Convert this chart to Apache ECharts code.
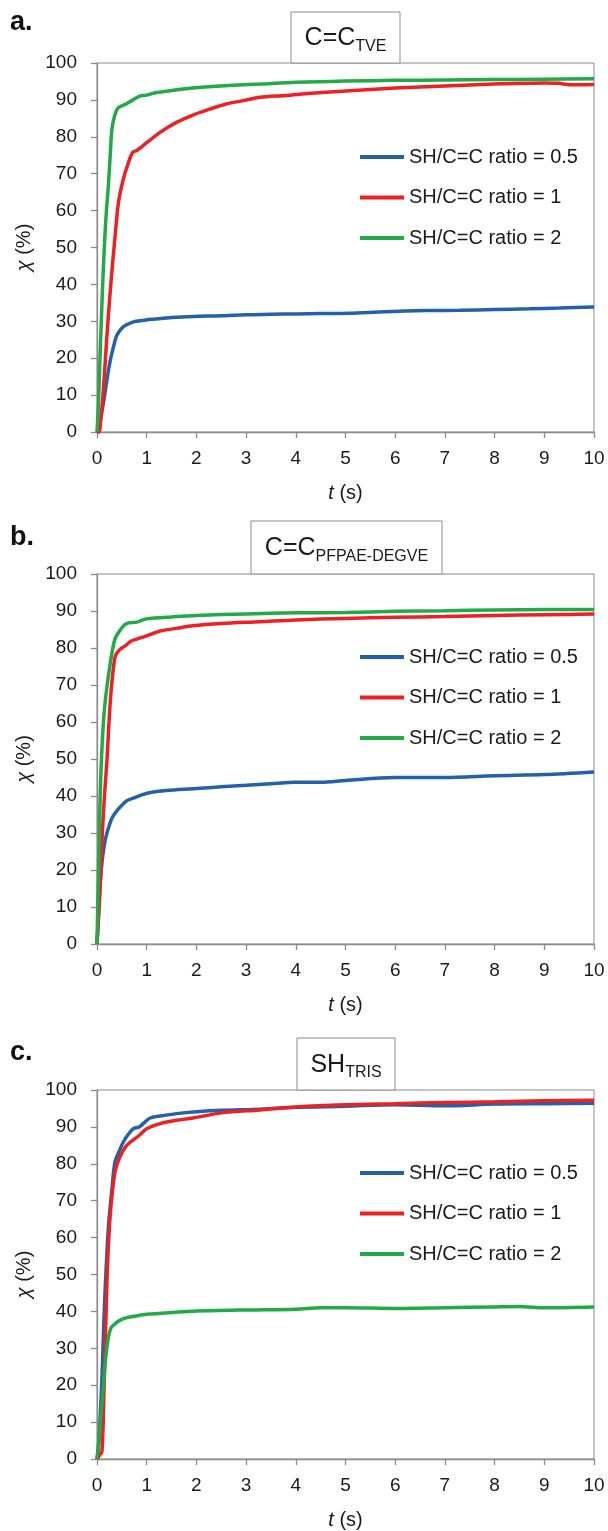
<!DOCTYPE html>
<html>
<head>
<meta charset="utf-8">
<script src="https://cdn.jsdelivr.net/npm/echarts@6/dist/echarts.min.js"></script>
<style>html,body{margin:0;padding:0;background:#fff;}#c{width:608px;height:1531px;}</style>
</head>
<body>
<div id="c"></div>
<script>
// ---------- DATA ----------
const seriesNames = ['SH/C=C ratio = 0.5', 'SH/C=C ratio = 1', 'SH/C=C ratio = 2'];
const xTicks = [0,1,2,3,4,5,6,7,8,9,10];
const yTicks = [0,10,20,30,40,50,60,70,80,90,100];

// Panel a: C=C TVE
const tA05 = [0,0.02,0.08,0.15,0.21,0.27,0.33,0.39,0.46,0.54,0.65,0.78,0.95,1.17,1.5,1.94,2.5,3,3.5,4,4.5,5.07,5.8,6.62,7.3,8,8.7,9.3,10];
const vA05 = [0,0,4,9.6,15,19.6,23,25.9,27.5,28.6,29.4,30,30.3,30.6,31,31.3,31.5,31.8,31.9,32,32.1,32.2,32.6,32.9,33,33.2,33.4,33.6,33.9];
const tA1 = [0,0.04,0.08,0.12,0.17,0.22,0.29,0.35,0.43,0.52,0.62,0.72,0.8,0.9,1.0,1.27,1.6,1.93,2.27,2.6,2.94,3.28,3.8,4.3,5,6,7,8,9,9.3,9.5,10];
const vA1 = [0,0,4,10,20,30,42,51,62,68,72.5,75.8,76.3,77.3,78.4,81.2,83.9,85.9,87.5,88.9,89.8,90.7,91.2,91.8,92.4,93.2,93.8,94.3,94.6,94.5,94.1,94.2];
const tA2 = [0,0.03,0.06,0.1,0.14,0.18,0.23,0.27,0.3,0.35,0.42,0.5,0.6,0.7,0.86,1.0,1.2,1.47,1.93,2.4,3.28,4,5,6,7,8,9,10];
const vA2 = [0,8,20,35,48,58,67,76,82,85.5,87.8,88.4,89,89.8,91,91.3,92,92.5,93.2,93.7,94.3,94.8,95.1,95.3,95.4,95.5,95.6,95.7];

// Panel b: C=C PFPAE-DEGVE
const tB05 = [0,0.03,0.06,0.1,0.15,0.2,0.3,0.4,0.5,0.6,0.75,0.9,1.1,1.4,2,2.5,3,3.5,4,4.5,5,6,7,8,9,10];
const vB05 = [0,8,15,22,27,30,34,36,37.5,38.7,39.5,40.3,41,41.5,42,42.5,42.9,43.3,43.7,43.7,44.2,45,45,45.5,45.8,46.5];
const tB1 = [0,0.05,0.1,0.15,0.2,0.27,0.36,0.45,0.56,0.68,0.8,1.0,1.27,1.6,1.93,2.5,3.28,4,5,6,7,8,9,10];
const vB1 = [0,12,28,40,49.5,66,77.4,79.5,80.5,81.8,82.4,83.3,84.6,85.3,86,86.6,87.1,87.6,88,88.3,88.5,88.8,89,89.2];
const tB2 = [0,0.03,0.06,0.09,0.14,0.2,0.28,0.36,0.45,0.55,0.63,0.8,0.9,1.0,1.5,2,3,4,5,6,7,8,9,10];
const vB2 = [0,20,38,50,62,69.5,77,82.4,84.5,86.2,86.8,87,87.5,87.9,88.4,88.8,89.2,89.5,89.6,89.9,90.1,90.3,90.4,90.4];

// Panel c: SH TRIS
const tC05 = [0,0.03,0.06,0.1,0.14,0.17,0.23,0.3,0.36,0.45,0.53,0.63,0.73,0.85,1.07,1.3,1.6,2,2.5,3.28,4,5,6,7,8,9,10];
const vC05 = [0,3,10,22,38,47.8,63,73,80.4,83.5,85.9,88,89.5,90,92.4,93,93.6,94.1,94.5,94.8,95.3,95.6,96,95.7,96.2,96.3,96.4];
const tC1 = [0,0.05,0.1,0.14,0.2,0.26,0.36,0.45,0.6,0.86,1.0,1.27,1.6,1.93,2.5,3.28,4,5,6,7,8,9,10];
const vC1 = [0,1,2,18,47.8,65,77.7,81.5,85,87.8,89.5,90.9,91.8,92.4,93.8,94.6,95.4,96,96.3,96.6,96.8,97.1,97.2];
const tC2 = [0,0.03,0.06,0.1,0.14,0.18,0.23,0.28,0.35,0.45,0.6,0.8,1,1.5,2,3,4,4.5,5,6,7,8,8.5,9,10];
const vC2 = [0,4,9,15,22,28,33,35.5,36.5,37.5,38.3,38.8,39.2,39.7,40.1,40.4,40.6,41,41,40.8,41,41.2,41.3,41,41.2];

const panelData = [
  [[tA05,vA05],[tA1,vA1],[tA2,vA2]],
  [[tB05,vB05],[tB1,vB1],[tB2,vB2]],
  [[tC05,vC05],[tC1,vC1],[tC2,vC2]]
];
const panelLetters = ['a.', 'b.', 'c.'];
const panelTitleMain = ['C=C', 'C=C', 'SH'];
const panelTitleSub = ['TVE', 'PFPAE-DEGVE', 'TRIS'];

// ---------- STYLE / LAYOUT ----------
const FONT = 'Liberation Sans, Arial, sans-serif';
const colors = ['#2461a8', '#ed2024', '#21aa47'];
const gridTops = [63, 574, 1090];
const gridH = [369, 370, 370];
const legendTops = [141, 641, 1157];
const boxes = [
  {x:291, y:12, w:109, h:51},
  {x:251, y:521, w:191, h:53},
  {x:297, y:1038, w:98, h:52}
];
const letterY = [23, 538, 1053];

const grids = [], xAxes = [], yAxes = [], series = [], legends = [], graphics = [];
for (let p = 0; p < 3; p++) {
  grids.push({left: 97, right: 14, top: gridTops[p], height: gridH[p], show: true, borderColor: '#8c8c8c', borderWidth: 1, backgroundColor: 'transparent'});
  xAxes.push({
    type: 'value', gridIndex: p, min: 0, max: 10, interval: 1,
    axisLine: {show: true, lineStyle: {color: '#8c8c8c', width: 1.3}},
    axisTick: {show: true, length: 6, lineStyle: {color: '#8c8c8c', width: 1.3}},
    splitLine: {show: false},
    axisLabel: {color: '#1a1a1a', fontSize: 19, fontFamily: FONT, margin: 17},
    name: '{i|t} (s)', nameLocation: 'middle', nameGap: 51,
    nameTextStyle: {color: '#1a1a1a', fontSize: 20, fontFamily: FONT, rich: {i: {fontStyle: 'italic', fontSize: 20, fontFamily: FONT, color: '#1a1a1a'}}}
  });
  yAxes.push({
    type: 'value', gridIndex: p, min: 0, max: 100, interval: 10,
    axisLine: {show: true, lineStyle: {color: '#8c8c8c', width: 1.3}},
    axisTick: {show: true, length: 6, lineStyle: {color: '#8c8c8c', width: 1.3}},
    splitLine: {show: false},
    axisLabel: {color: '#1a1a1a', fontSize: 19, fontFamily: FONT, margin: 20},
    name: '{i|χ} (%)', nameLocation: 'middle', nameGap: 62, nameRotate: 90,
    nameTextStyle: {color: '#1a1a1a', fontSize: 20, fontFamily: FONT, rich: {i: {fontStyle: 'italic', fontSize: 20, fontFamily: FONT, color: '#1a1a1a'}}}
  });
  for (let s = 0; s < 3; s++) {
    const [ts, vs] = panelData[p][s];
    series.push({
      type: 'line', name: seriesNames[s], xAxisIndex: p, yAxisIndex: p,
      data: ts.map((t, i) => [t, vs[i]]),
      showSymbol: false, smooth: 0.3,
      lineStyle: {color: colors[s], width: 3.5},
      itemStyle: {color: colors[s]},
      z: 3 + s
    });
  }
  legends.push({
    data: seriesNames, orient: 'vertical', left: 355, top: legendTops[p],
    icon: 'rect', itemWidth: 44, itemHeight: 4, itemGap: 18.5,
    selectedMode: false,
    textStyle: {color: '#1a1a1a', fontSize: 20, fontFamily: FONT, lineHeight: 22}
  });
  const b = boxes[p];
  graphics.push({type: 'rect', shape: {x: b.x, y: b.y, width: b.w, height: b.h}, style: {fill: '#fff', stroke: '#8c8c8c', lineWidth: 1}, z: 100});
  graphics.push({type: 'text', x: b.x + b.w / 2, y: b.y + b.h / 2 + 1, z: 101,
    style: {text: '{m|' + panelTitleMain[p] + '}{s|' + panelTitleSub[p] + '}', align: 'center', verticalAlign: 'middle',
      rich: {m: {fontSize: 25, fontFamily: FONT, fill: '#1a1a1a', lineHeight: 32}, s: {fontSize: 16, fontFamily: FONT, fill: '#1a1a1a', verticalAlign: 'bottom', lineHeight: 32}}}});
  graphics.push({type: 'text', x: 10, y: letterY[p], z: 101,
    style: {text: panelLetters[p], fontSize: 27, fontWeight: 'bold', fontFamily: FONT, fill: '#111', verticalAlign: 'middle'}});
}

const chart = echarts.init(document.getElementById('c'), null, {renderer: 'canvas'});
chart.setOption({
  animation: false,
  backgroundColor: '#fff',
  grid: grids, xAxis: xAxes, yAxis: yAxes, series: series, legend: legends, graphic: graphics
});
</script>
</body>
</html>
